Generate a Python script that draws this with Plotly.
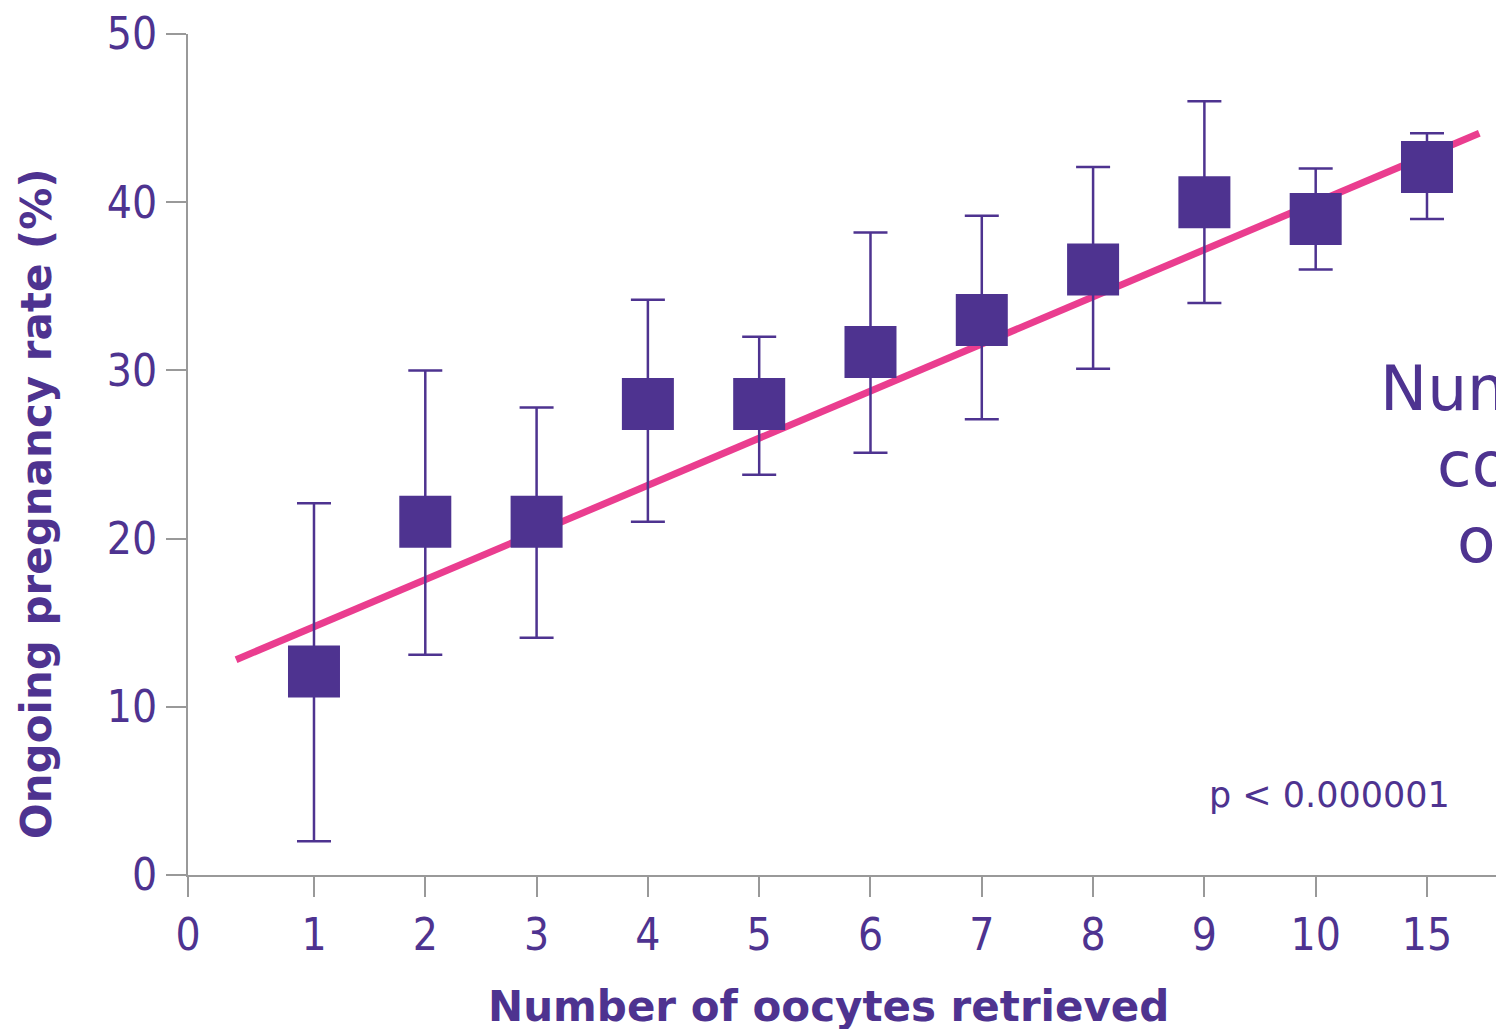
import plotly.graph_objects as go

# data
x_labels = ["0", "1", "2", "3", "4", "5", "6", "7", "8", "9", "10", "15"]
x_tickpos = [-0.132, 1, 2, 3, 4, 5, 6, 7, 8, 9, 10, 11]
pos = [1, 2, 3, 4, 5, 6, 7, 8, 9, 10, 11]
rate = [12.1, 21.0, 21.0, 28.0, 28.0, 31.1, 33.0, 36.0, 40.0, 39.0, 42.1]
upper = [22.1, 30.0, 27.8, 34.2, 32.0, 38.2, 39.2, 42.1, 46.0, 42.0, 44.1]
lower = [2.0, 13.1, 14.1, 21.0, 23.8, 25.1, 27.1, 30.1, 34.0, 36.0, 39.0]
fit_x = [0.30, 11.47]
fit_y = [12.8, 44.1]
y_ticks = [0, 10, 20, 30, 40, 50]

PURPLE = "#4E3390"
PINK = "#EA3D8F"
GRAY = "#999999"
FONT = "DejaVu Sans Condensed, DejaVu Sans, sans-serif"
REG = "DejaVu Sans, sans-serif"
BOLD = "DejaVu Sans, sans-serif"

W, H = 1496, 1029
L, R, T, B = 188, 0, 34, 154
XR = [-0.132, 11.62]
YR = [0, 50]


def px_x(px):
    return XR[0] + (px - L) / (W - L - R) * (XR[1] - XR[0])


def px_y(py):
    return YR[0] + (H - B - py) / (H - B - T) * (YR[1] - YR[0])


err_plus = [u - r for u, r in zip(upper, rate)]
err_minus = [r - l for r, l in zip(rate, lower)]

fig = go.Figure()
fig.add_trace(go.Scatter(
    x=fit_x, y=fit_y, mode="lines",
    line=dict(color=PINK, width=7), hoverinfo="skip", showlegend=False))
fig.add_trace(go.Scatter(
    x=pos, y=rate, mode="markers",
    marker=dict(symbol="square", size=52, color=PURPLE, line=dict(width=0)),
    error_y=dict(type="data", symmetric=False, array=err_plus, arrayminus=err_minus,
                 color=PURPLE, thickness=2.5, width=17),
    showlegend=False))

# p-value
fig.add_annotation(xref="x", yref="y", x=px_x(1452), y=px_y(795), text="p < 0.000001",
                   showarrow=False, xanchor="right", yanchor="middle",
                   font=dict(family=REG, size=35, color=PURPLE))

# clipped side text
for txt, lx, base in [("Number of", 1378, 411), ("cohorts", 1435, 487), ("oocytes", 1455, 563)]:
    fig.add_annotation(xref="x", yref="y", x=px_x(lx), y=px_y(base - 23), text=txt,
                       showarrow=False, xanchor="left", yanchor="middle",
                       font=dict(family=REG, size=63, color=PURPLE))

# axis titles
fig.add_annotation(xref="x", yref="paper", x=px_x(828), y=0,
                   text="<b>Number of oocytes retrieved</b>", showarrow=False,
                   xanchor="center", yanchor="middle", yshift=-(1006 - (H - B)),
                   font=dict(family=BOLD, size=42, color=PURPLE))
fig.add_annotation(xref="paper", yref="y", x=0, y=px_y(504), xshift=-(L - 36),
                   text="<b>Ongoing pregnancy rate (%)</b>", showarrow=False,
                   textangle=-90, xanchor="center", yanchor="middle",
                   font=dict(family=BOLD, size=42, color=PURPLE))

fig.update_layout(
    width=W, height=H,
    margin=dict(l=L, r=R, t=T, b=B, pad=0),
    paper_bgcolor="white", plot_bgcolor="white",
    font=dict(family=FONT, color=PURPLE),
    xaxis=dict(range=XR, tickvals=x_tickpos, ticktext=x_labels,
               showgrid=False, zeroline=False, showline=True, linecolor=GRAY, linewidth=2,
               ticks="outside", ticklen=20, tickwidth=2, tickcolor=GRAY,
               tickfont=dict(family=FONT, size=44, color=PURPLE)),
    yaxis=dict(range=YR, tickvals=y_ticks,
               showgrid=False, zeroline=False, showline=True, linecolor=GRAY, linewidth=2,
               ticks="outside", ticklen=20, tickwidth=2, tickcolor=GRAY,
               tickfont=dict(family=FONT, size=44, color=PURPLE)),
)

fig.write_html("out.html", config={"displayModeBar": False},
               post_script="document.body.style.margin='0';document.body.style.overflow='hidden';")
